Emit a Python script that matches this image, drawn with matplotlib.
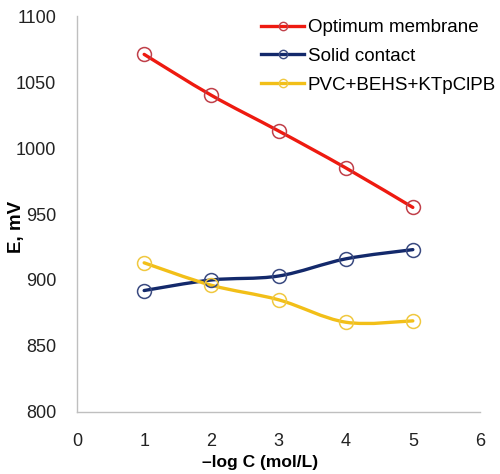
import numpy as np
import matplotlib
matplotlib.use("Agg")
import matplotlib.pyplot as plt
from matplotlib.path import Path
from matplotlib.patches import PathPatch
from matplotlib.lines import Line2D

plt.rcParams['font.family'] = ['Liberation Sans', 'DejaVu Sans']

x = [1, 2, 3, 4, 5]
series_names = ["Optimum membrane", "Solid contact", "PVC+BEHS+KTpClPB"]
optimum = [1071, 1040, 1013, 985, 955]
solid = [892, 900, 903, 916, 923]
pvc = [913, 896, 885, 868, 869]
series_values = [optimum, solid, pvc]
line_colors = ["#EE1A10", "#13296B", "#F2BF18"]
marker_edges = ["#C0404A", "#3A4A80", "#F0C840"]

fig = plt.figure(figsize=(5.0, 4.74), dpi=100)
ax = fig.add_axes([0.154, 0.131, 0.806, 0.835])


def smooth_path(xs, ys):
    pts = np.column_stack([xs, ys]).astype(float)
    n = len(pts)
    verts = [pts[0]]
    codes = [Path.MOVETO]
    for i in range(n - 1):
        p0 = pts[i - 1] if i > 0 else pts[i]
        p1 = pts[i]
        p2 = pts[i + 1]
        p3 = pts[i + 2] if i + 2 < n else pts[i + 1]
        c1 = p1 + (p2 - p0) / 6.0
        c2 = p2 - (p3 - p1) / 6.0
        verts += [c1, c2, p2]
        codes += [Path.CURVE4] * 3
    return Path(verts, codes)


handles = []
for name, vals, lc, me in zip(series_names, series_values, line_colors, marker_edges):
    patch = PathPatch(smooth_path(x, vals), facecolor='none', edgecolor=lc,
                      lw=2.4, capstyle='round', zorder=2)
    ax.add_patch(patch)
    ax.plot(x, vals, linestyle='none', marker='o', markersize=10,
            markerfacecolor='none', markeredgecolor=me, markeredgewidth=1.1, zorder=3)
    handles.append(Line2D([0], [0], color=lc, lw=2.4, marker='o', markersize=6,
                          markerfacecolor='none', markeredgecolor=me, markeredgewidth=1.0))

ax.set_xlim(0, 6)
ax.set_ylim(800, 1100)
ax.set_xticks([0, 1, 2, 3, 4, 5, 6])
ax.set_yticks([800, 850, 900, 950, 1000, 1050, 1100])
ax.tick_params(length=0, labelsize=13, colors='#222222')
ax.tick_params(axis='y', pad=15)
ax.tick_params(axis='x', pad=15)
for s in ['top', 'right']:
    ax.spines[s].set_visible(False)
for s in ['left', 'bottom']:
    ax.spines[s].set_color('#BFBFBF')
    ax.spines[s].set_linewidth(1.0)

ax.set_xlabel("\u2013log C (mol/L)", fontsize=12.5, fontweight='bold')
ax.xaxis.set_label_coords(0.455, -0.108)
ax.set_ylabel("E, mV", fontsize=13.5, fontweight='bold')
ax.yaxis.set_label_coords(-0.13, 0.467)

leg = fig.legend(handles, series_names, loc='upper left',
                 bbox_to_anchor=(0.522, 1 - 19 / 474), bbox_transform=fig.transFigure,
                 frameon=False, fontsize=13.5, handlelength=2.3, handletextpad=0.2,
                 labelspacing=0.62, borderaxespad=0, borderpad=0)

fig.savefig("out.png", dpi=100)
